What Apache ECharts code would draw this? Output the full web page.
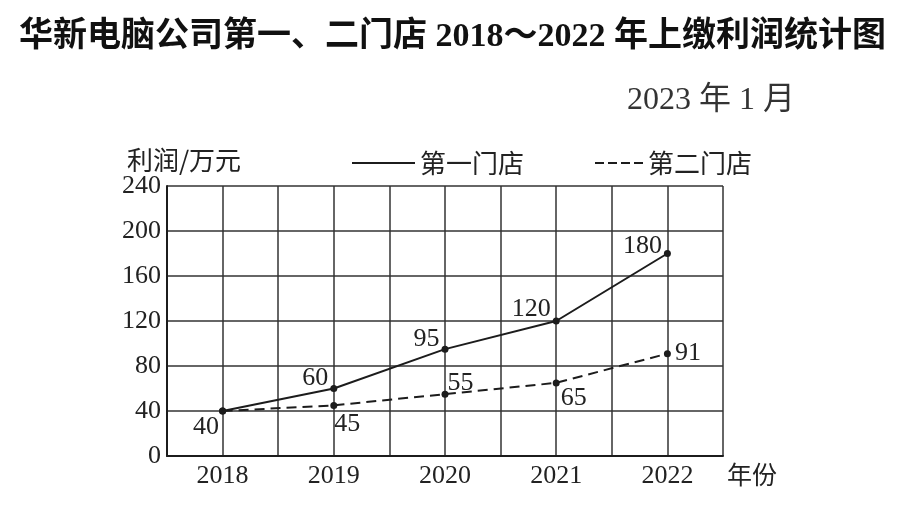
<!DOCTYPE html>
<html>
<head>
<meta charset="utf-8">
<script src="https://cdn.jsdelivr.net/npm/echarts@6/dist/echarts.min.js"></script>
<style>
    html, body { margin: 0; padding: 0; background: #fff; }
    #chart { width: 903px; height: 506px; }
</style>
</head>
<body>
<div id="chart"></div>
<script>
//年份
let years = ['2018', '2019', '2020', '2021', '2022'];
//第一门店利润（万元）
let store1 = [40, 60, 95, 120, 180];
//第二门店利润（万元）
let store2 = [40, 45, 55, 65, 91];
//纵轴刻度
let yMin = 0, yMax = 240, yStep = 40;

let serif = "'Liberation Serif', 'Noto Sans CJK SC', serif";
let cjk = "'Noto Sans CJK SC', sans-serif";
let ink = '#1c1c1c';

//每个点的数字标签位置
let labelPos1 = [
    { position: 'left', offset: [2, 16] },
    { position: 'left', offset: [0, -10] },
    { position: 'left', offset: [0, -10] },
    { position: 'left', offset: [0, -12] },
    { position: 'left', offset: [0, -7] }
];
let labelPos2 = [
    { show: false },
    { position: 'right', offset: [-7, 19] },
    { position: 'right', offset: [-5, -11] },
    { position: 'right', offset: [-3, 15] },
    { position: 'right', offset: [0, 0] }
];

let myChart = echarts.init(document.getElementById('chart'));

let option = {
    backgroundColor: '#fff',
    animation: false,
    title: [
        {
            text: '华新电脑公司第一、二门店 2018～2022 年上缴利润统计图',
            left: 14,
            top: 15,
            textStyle: { fontFamily: serif, fontWeight: 'bold', fontSize: 34, color: '#111' }
        },
        {
            text: '2023 年 1 月',
            left: 622,
            top: 80,
            textStyle: { fontFamily: serif, fontWeight: 'normal', fontSize: 32, color: '#333' }
        }
    ],
    //图例：实线、虚线
    legend: [
        {
            data: [{ name: '第一门店', icon: 'path://M0,0H63V2H0Z' }],
            left: 352,
            top: 150,
            padding: 0,
            itemWidth: 63,
            itemHeight: 2,
            itemStyle: { color: ink },
            textStyle: { fontFamily: cjk, fontSize: 26, color: '#222' }
        },
        {
            data: [{ name: '第二门店', icon: 'path://M0,0H9V2H0Z M13,0H22V2H13Z M26,0H35V2H26Z M39,0H48V2H39Z' }],
            left: 595,
            top: 150,
            padding: 0,
            itemWidth: 48,
            itemHeight: 2,
            itemStyle: { color: ink },
            textStyle: { fontFamily: cjk, fontSize: 26, color: '#222' }
        }
    ],
    grid: { left: 167, right: 180, top: 186, bottom: 50 },
    xAxis: [
        {
            type: 'category',
            data: years,
            boundaryGap: true,
            name: '年份',
            nameLocation: 'end',
            nameGap: 4,
            nameTextStyle: { fontFamily: cjk, fontSize: 25, color: '#222', verticalAlign: 'top', padding: [6, 0, 0, 0] },
            axisLine: { lineStyle: { color: ink, width: 2 } },
            axisTick: { show: false },
            axisLabel: { fontFamily: serif, fontSize: 26, color: '#222', margin: 7 },
            splitLine: { show: false }
        },
        {
            //半格竖线
            type: 'value',
            min: 0,
            max: 10,
            interval: 1,
            position: 'top',
            axisLine: { show: false },
            axisTick: { show: false },
            axisLabel: { show: false },
            splitLine: { show: true, lineStyle: { color: '#333', width: 1.5 } }
        }
    ],
    yAxis: {
        type: 'value',
        min: yMin,
        max: yMax,
        interval: yStep,
        name: '利润/万元',
        nameLocation: 'end',
        nameGap: 12,
        nameTextStyle: { fontFamily: cjk, fontSize: 26, color: '#222', align: 'center', padding: [0, 0, 0, 34] },
        axisLine: { show: true, lineStyle: { color: ink, width: 2 } },
        axisTick: { show: false },
        axisLabel: { fontFamily: serif, fontSize: 26, color: '#222', margin: 6 },
        splitLine: { show: true, lineStyle: { color: '#333', width: 1.5 } }
    },
    series: [
        {
            name: '第一门店',
            type: 'line',
            xAxisIndex: 0,
            data: store1.map(function (v, i) { return { value: v, label: labelPos1[i] }; }),
            symbol: 'circle',
            symbolSize: 7,
            itemStyle: { color: ink },
            lineStyle: { color: ink, width: 2, type: 'solid' },
            label: { show: true, distance: 2, fontFamily: serif, fontSize: 26, color: '#222' },
            z: 3
        },
        {
            name: '第二门店',
            type: 'line',
            xAxisIndex: 0,
            data: store2.map(function (v, i) { return { value: v, label: labelPos2[i] }; }),
            symbol: 'circle',
            symbolSize: 7,
            itemStyle: { color: ink },
            lineStyle: { color: ink, width: 2, type: [10, 6] },
            label: { show: true, distance: 4, fontFamily: serif, fontSize: 26, color: '#222' },
            z: 2
        }
    ]
};

myChart.setOption(option);
</script>
</body>
</html>
